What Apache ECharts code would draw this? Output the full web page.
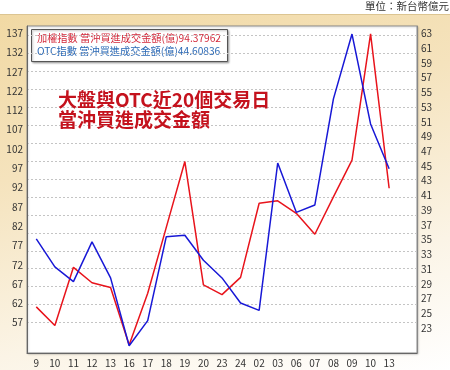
<!DOCTYPE html>
<html>
<head>
<meta charset="utf-8">
<script src="https://cdn.jsdelivr.net/npm/echarts@6/dist/echarts.min.js"></script>
<style>
  html, body { margin: 0; padding: 0; background: #fff; }
  #wrap { position: relative; width: 450px; height: 370px; overflow: hidden; }
  #bg {
    position: absolute; left: 0; top: 14px; width: 450px; height: 356px;
    border-top: 1px solid #dcc592;
    background: linear-gradient(165deg, #f1d9a4 0%, #f5e3bd 35%, #fbf4e6 72%, #ffffff 100%);
  }
  #echarts { position: absolute; left: 0; top: 0; width: 450px; height: 370px; }
</style>
</head>
<body>
<div id="wrap">
  <div id="bg"></div>
  <div id="echarts"></div>
</div>
<script>
// 交易日
var dates = ['9','10','11','12','13','16','17','18','19','20','23','24','02','03','06','07','08','09','10','13'];
// 加權指數 當沖買進成交金額(億) - 左軸
var twseValues = [61.4, 56.2, 72.4, 68.1, 66.8, 50.8, 65.2, 83.5, 101.8, 67.5, 64.8, 69.6, 90.2, 90.9, 87.4, 81.6, 92.0, 102.2, 137.3, 94.37962];
// OTC指數 當沖買進成交金額(億) - 右軸
var otcValues = [35.1, 31.3, 29.3, 34.7, 29.8, 20.6, 24.0, 35.4, 35.6, 32.2, 29.8, 26.4, 25.4, 45.4, 38.7, 39.7, 54.1, 62.9, 50.7, 44.60836];
// 左軸刻度文字 (原圖缺 117)
var leftTicks = [137, 132, 127, 122, 112, 107, 102, 97, 92, 87, 82, 77, 72, 67, 62, 57];
// 左軸格線
var leftGrid = [57, 62, 67, 72, 77, 82, 87, 92, 97, 102, 107, 112, 117, 122, 127, 132, 137];
// 右軸刻度
var rightTicks = [63, 61, 59, 57, 55, 53, 51, 49, 47, 45, 43, 41, 39, 37, 35, 33, 31, 29, 27, 25, 23];

var font = '"Noto Sans CJK TC", "Noto Sans", sans-serif';
var leftStep = (137.5 - 57) / (leftTicks.length - 1);
var leftLabelPos = leftTicks.map(function (v, i) { return 57 + (leftTicks.length - 1 - i) * leftStep; });

var myChart = echarts.init(document.getElementById('echarts'), null, { renderer: 'canvas' });
var options = {
  backgroundColor: 'transparent',
  animation: false,
  textStyle: { fontFamily: font },
  title: {
    text: '大盤與OTC近20個交易日\n當沖買進成交金額',
    left: 53, top: 85,
    textStyle: { color: '#c4121d', fontSize: 19, fontWeight: 'bold', lineHeight: 20, fontFamily: font }
  },
  grid: {
    left: 27, right: 33, top: 26, bottom: 17,
    show: true, backgroundColor: '#fff', borderColor: '#8a8a8a', borderWidth: 1,
    shadowColor: 'rgba(0,0,0,0.2)', shadowBlur: 2, shadowOffsetX: 1, shadowOffsetY: 1
  },
  xAxis: {
    type: 'category',
    data: dates.concat(['']),
    boundaryGap: true,
    axisLine: { lineStyle: { color: '#666' } },
    axisTick: {
      alignWithLabel: true, length: 3, lineStyle: { color: '#666' },
      interval: function (idx) { return idx < dates.length; }
    },
    axisLabel: { interval: 0, fontSize: 10, color: '#333', margin: 5 },
    splitLine: { show: false }
  },
  yAxis: [
    {
      type: 'value',
      min: 48.57, max: 139.5,
      axisLine: { show: true, lineStyle: { color: '#666' } },
      axisTick: { show: false, customValues: leftGrid },
      axisLabel: {
        customValues: leftLabelPos, fontSize: 10, color: '#333', margin: 4,
        formatter: function (v) {
          var k = Math.round((v - 57) / leftStep);
          return String(leftTicks[leftTicks.length - 1 - k]);
        }
      },
      splitLine: { show: true, lineStyle: { color: '#c4c4c4', type: [2, 2], width: 1 } }
    },
    {
      type: 'value',
      min: 19.61, max: 63.99,
      axisLine: { show: true, lineStyle: { color: '#888' } },
      axisTick: { show: false },
      axisLabel: { customValues: rightTicks, fontSize: 10, color: '#333', margin: 4 },
      splitLine: { show: false }
    }
  ],
  graphic: [
    {
      type: 'text', right: 1, top: 1,
      style: { text: '單位：新台幣億元', fill: '#333', font: '10.5px ' + font }
    },
    {
      type: 'group', left: 31, top: 29, z: 10,
      children: [
        {
          type: 'rect', shape: { x: 0.5, y: 0.5, width: 196, height: 32 },
          style: { fill: '#fff', stroke: '#555', lineWidth: 1, shadowBlur: 2, shadowColor: 'rgba(0,0,0,0.3)', shadowOffsetX: 1, shadowOffsetY: 1 }
        },
        {
          type: 'text', x: 6, y: 4,
          style: { text: '加權指數 當沖買進成交金額(億)' + twseValues[twseValues.length - 1], fill: '#d2283a', font: '10.2px ' + font }
        },
        {
          type: 'text', x: 6, y: 17,
          style: { text: 'OTC指數 當沖買進成交金額(億)' + otcValues[otcValues.length - 1], fill: '#2a68b5', font: '10.2px ' + font }
        }
      ]
    }
  ],
  series: [
    {
      name: '加權指數', type: 'line', yAxisIndex: 0,
      data: twseValues, showSymbol: false, symbol: 'none',
      lineStyle: { color: '#e8141c', width: 1.5 }
    },
    {
      name: 'OTC指數', type: 'line', yAxisIndex: 1,
      data: otcValues, showSymbol: false, symbol: 'none',
      lineStyle: { color: '#1818d6', width: 1.5 }
    }
  ]
};
myChart.setOption(options);
</script>
</body>
</html>
